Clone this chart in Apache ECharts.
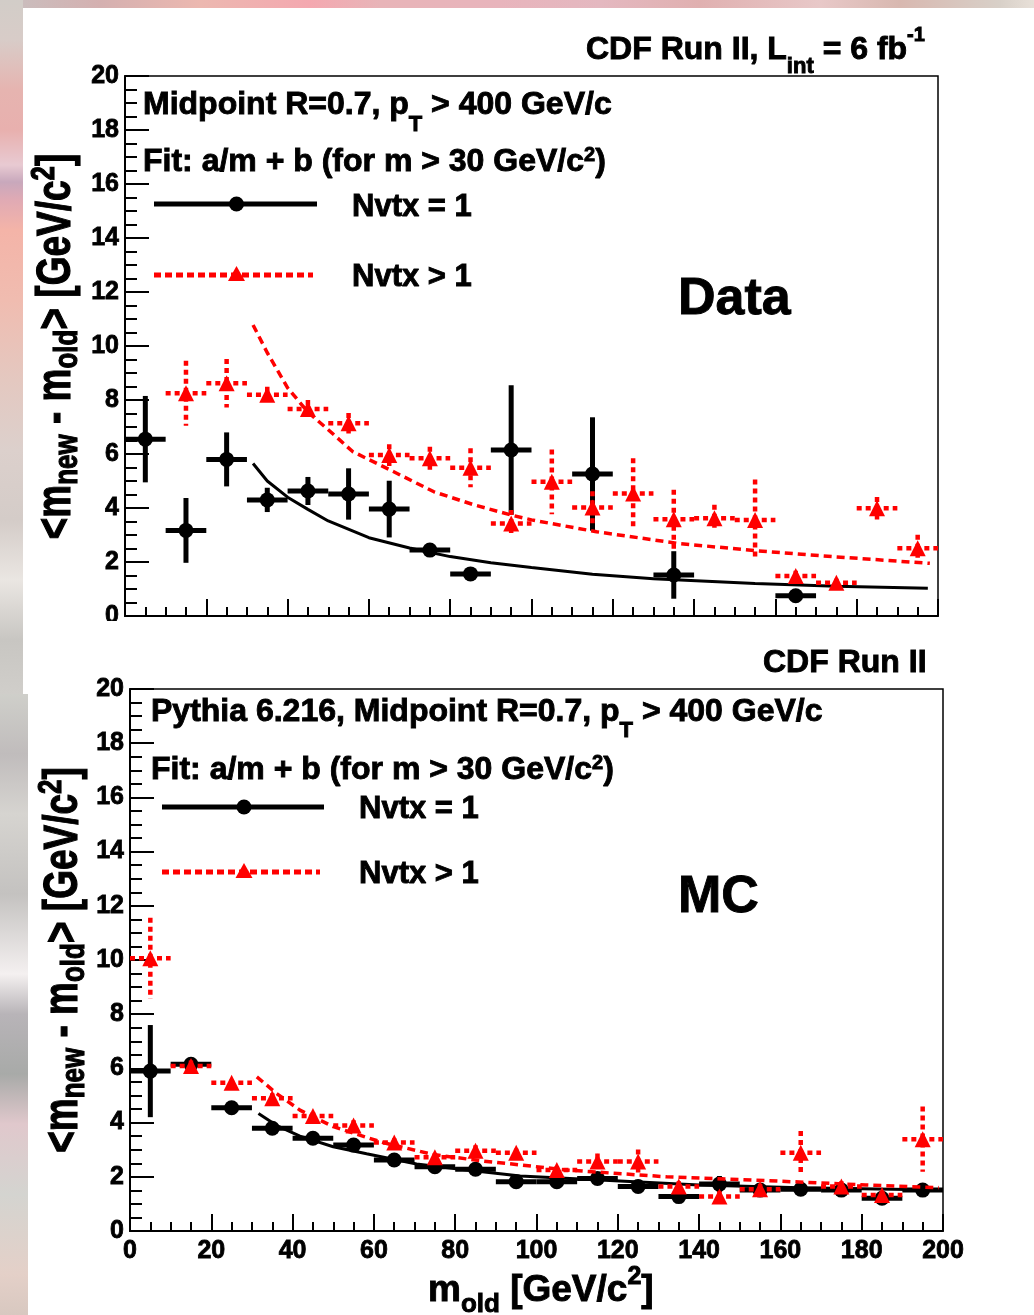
<!DOCTYPE html>
<html>
<head>
<meta charset="utf-8">
<script src="https://cdn.jsdelivr.net/npm/echarts@6/dist/echarts.min.js"></script>
<style>
html,body{margin:0;padding:0;width:1034px;height:1315px;overflow:hidden;background:#fff;}
#bgTop{position:absolute;left:0;top:0;width:1034px;height:8px;
background:linear-gradient(to right,#c8c0c0 0px,#d4b0b0 100px,#ecb8b0 200px,#f4a8b0 310px,#e8b4b8 380px,#e8b4bc 500px,#e4b8c0 600px,#e0b0b0 700px,#e8c8c8 820px,#d8b8b0 900px,#d8d0c8 1000px,#e8e0d8 1034px);}
#bgLeft1{position:absolute;left:0;top:0;width:23px;height:694px;
background:linear-gradient(to bottom,#d2cdc8 0px,#d8ccc8 40px,#e6b4b0 90px,#e8b0ae 130px,#e8cad2 165px,#c8a8bc 182px,#e0aab4 200px,#f4b4a8 230px,#f0bcb0 300px,#e4c8c0 380px,#dcd0cc 450px,#d4ccc8 520px,#eae6e2 580px,#c8c6c2 640px,#d0ceca 694px);}
#bgLeft2{position:absolute;left:0;top:694px;width:28px;height:621px;
background:linear-gradient(to bottom,#cfcfca 0px,#c0bcbc 60px,#d6d4d0 120px,#c4c2c0 200px,#f4f0f0 280px,#b8b4b8 320px,#a8aaa8 380px,#e0c8cc 430px,#d4d4d0 500px,#e4d0c8 580px,#d8c8c0 621px);}
#chart{position:absolute;left:0;top:0;width:1034px;height:1315px;}
</style>
</head>
<body>
<div id="bgTop"></div><div id="bgLeft1"></div><div id="bgLeft2"></div>
<div id="chart"></div>
<script>
// ---------------- data ----------------
const binHalfWidth = 5;           // horizontal error = half bin width (GeV/c^2)
const xRange = [0, 200], xStep = 20;
const yRange = [0, 20], yStep = 2;

// Top panel: Data
const dataMassN1  = [5, 15, 25, 35, 45, 55, 65, 75, 85, 95, 115, 135, 165];
const dataShiftN1 = [6.55, 3.17, 5.80, 4.30, 4.63, 4.52, 3.96, 2.44, 1.56, 6.15, 5.26, 1.52, 0.75];
const dataErrN1   = [1.60, 1.20, 1.00, 0.45, 0.52, 0.95, 1.05, 0.20, 0.15, 2.40, 2.10, 0.88, 0.15];

const dataMassN2  = [15, 25, 35, 45, 55, 65, 75, 85, 95, 105, 115, 125, 135, 145, 155, 165, 175, 185, 195];
const dataShiftN2 = [8.25, 8.62, 8.19, 7.67, 7.14, 5.96, 5.84, 5.49, 3.43, 4.97, 4.02, 4.54, 3.58, 3.62, 3.56, 1.48, 1.23, 3.99, 2.51];
const dataErrN2   = [1.20, 0.90, 0.30, 0.33, 0.38, 0.40, 0.43, 0.72, 0.50, 1.20, 0.60, 1.30, 1.10, 0.50, 1.50, 0.20, 0.15, 0.42, 0.50];

const dataFitN1Mass = [31.5, 35, 40, 45, 50, 60, 70, 80, 90, 100, 115, 130, 155, 175, 197.5];
const dataFitN1Val  = [5.65, 5.00, 4.40, 3.95, 3.52, 2.90, 2.52, 2.20, 1.97, 1.80, 1.55, 1.38, 1.20, 1.10, 1.03];
const dataFitN2Mass = [31.5, 35, 40, 45, 50, 56, 66, 76, 86, 95, 100, 116, 136, 155, 174, 198];
const dataFitN2Val  = [10.78, 9.75, 8.45, 7.55, 6.90, 6.09, 5.35, 4.60, 4.11, 3.74, 3.56, 3.12, 2.69, 2.42, 2.20, 1.95];

// Bottom panel: MC
const mcMass     = [5, 15, 25, 35, 45, 55, 65, 75, 85, 95, 105, 115, 125, 135, 145, 155, 165, 175, 185, 195];
const mcShiftN1  = [5.90, 6.15, 4.55, 3.79, 3.42, 3.17, 2.62, 2.37, 2.28, 1.82, 1.82, 1.94, 1.64, 1.27, 1.73, 1.51, 1.54, 1.51, 1.21, 1.51];
const mcErrN1    = [1.70, 0.15, 0.10, 0.10, 0.10, 0.12, 0.10, 0.10, 0.10, 0.10, 0.10, 0.10, 0.10, 0.10, 0.30, 0.15, 0.22, 0.15, 0.10, 0.25];
const mcShiftN2  = [10.06, 6.09, 5.47, 4.90, 4.24, 3.89, 3.27, 2.72, 2.96, 2.89, 2.25, 2.56, 2.56, 1.64, 1.27, 1.54, 2.89, 1.64, 1.33, 3.39];
const mcErrN2    = [1.50, 0.20, 0.12, 0.18, 0.15, 0.20, 0.15, 0.15, 0.20, 0.15, 0.15, 0.30, 0.45, 0.20, 0.20, 0.20, 0.80, 0.20, 0.15, 1.20];

const mcFitN1Mass = [31.6, 36, 41.8, 50, 58.2, 70.5, 82.8, 96, 115.6, 140, 164.8, 199];
const mcFitN1Val  = [4.34, 3.90, 3.50, 3.11, 2.85, 2.47, 2.25, 2.03, 1.88, 1.70, 1.60, 1.51];
const mcFitN2Mass = [31.2, 36, 41.8, 50, 62.3, 74.6, 86.9, 96, 107.4, 132, 156.6, 181, 199];
const mcFitN2Val  = [5.69, 5.08, 4.46, 3.85, 3.26, 2.82, 2.58, 2.44, 2.25, 2.00, 1.86, 1.70, 1.60];

// ---------------- helpers ----------------
const FF = '"Liberation Sans", Arial, Helvetica, sans-serif';
const RED = '#ff0000';

function zip(a, b, c) { return a.map((v, i) => c ? [v, b[i], binHalfWidth, c[i]] : [v, b[i]]); }

function errRender(color, width, dash) {
  return function (params, api) {
    const x = api.value(0), y = api.value(1), ex = api.value(2), ey = api.value(3);
    const a = api.coord([x - ex, y]), b = api.coord([x + ex, y]);
    const c = api.coord([x, y + ey]), d = api.coord([x, y - ey]);
    const st = { stroke: color, lineWidth: width, lineDash: dash, fill: null, lineCap: 'butt' };
    return { type: 'group', children: [
      { type: 'line', shape: { x1: a[0], y1: a[1], x2: b[0], y2: b[1] }, style: st },
      { type: 'line', shape: { x1: c[0], y1: c[1], x2: d[0], y2: d[1] }, style: st }
    ]};
  };
}
function errSeries(g, data, color, width, dash, z) {
  return { type: 'custom', xAxisIndex: g, yAxisIndex: g, data: data, encode: { x: 0, y: 1 },
    renderItem: errRender(color, width, dash), clip: true, z: z, silent: true };
}
function markSeries(g, data, symbol, size, color, z) {
  return { type: 'scatter', xAxisIndex: g, yAxisIndex: g, data: data, symbol: symbol, symbolSize: size,
    itemStyle: { color: color, opacity: 1 }, z: z, silent: true, clip: true };
}
function fitSeries(g, data, color, width, type, z) {
  return { type: 'line', xAxisIndex: g, yAxisIndex: g, data: data, symbol: 'none', showSymbol: false,
    lineStyle: { color: color, width: width, type: type }, z: z, silent: true, clip: true };
}
function tok(size, extra) {
  return Object.assign({ fontSize: size, fontWeight: 'bold', fontFamily: FF, fill: '#000',
    stroke: '#000', lineWidth: 0.9 }, extra || {});
}
function label(x, y, text, rich, extra) {
  return Object.assign({ type: 'text', x: x, y: y, z: 100,
    style: { text: text, rich: rich, align: 'left', verticalAlign: 'middle', fill: '#000',
      fontSize: rich.m.fontSize, fontWeight: 'bold', fontFamily: FF } }, extra || {});
}
function legendGroup(xl, xr, yb, yr) {
  const xc = (xl + xr) / 2 + 1;
  return [
    { type: 'line', z: 100, shape: { x1: xl, y1: yb, x2: xr, y2: yb }, style: { stroke: '#000', lineWidth: 5 } },
    { type: 'circle', z: 101, shape: { cx: xc, cy: yb, r: 7.5 }, style: { fill: '#000' } },
    { type: 'line', z: 100, shape: { x1: xl, y1: yr, x2: xr - 4, y2: yr }, style: { stroke: RED, lineWidth: 5, lineDash: [7, 4] } },
    { type: 'polygon', z: 101, shape: { points: [[xc, yr - 9], [xc - 8.5, yr + 6], [xc + 8.5, yr + 6]] }, style: { fill: RED } }
  ];
}

function axisPair(g, showXLabels) {
  const common = {
    gridIndex: g, type: 'value',
    axisLine: { show: true, onZero: false, lineStyle: { color: '#000', width: 2 } },
    splitLine: { show: false }, minorSplitLine: { show: false }
  };
  const lab = { color: '#000', fontSize: 25, fontWeight: 'bold', fontFamily: FF, textBorderColor: '#000', textBorderWidth: 0.8 };
  const x = Object.assign({}, common, {
    min: xRange[0], max: xRange[1], interval: xStep,
    axisTick: { show: true, inside: true, length: 17, lineStyle: { color: '#000', width: 2 } },
    minorTick: { show: true, splitNumber: 4, length: 9, lineStyle: { color: '#000', width: 2 } },
    axisLabel: Object.assign({ show: showXLabels, margin: 8 }, lab)
  });
  const y = Object.assign({}, common, {
    min: yRange[0], max: yRange[1], interval: yStep,
    axisTick: { show: true, inside: true, length: 24, lineStyle: { color: '#000', width: 2 } },
    minorTick: { show: true, splitNumber: 4, length: 12, lineStyle: { color: '#000', width: 2 } },
    axisLabel: Object.assign({ show: true, margin: 6 }, lab)
  });
  return [x, y];
}

const ax0 = axisPair(0, false), ax1 = axisPair(1, true);

// rich styles
const richCDF = { m: tok(32), s: tok(22, { padding: [34, 0, 0, 0] }), u: tok(20, { padding: [0, 0, 29, 0] }) };
const richSel = { m: tok(32), s: tok(22, { padding: [39, 0, 0, 0] }) };
const richFit = { m: tok(32), u: tok(20, { padding: [0, 0, 13, 0] }) };
const richLeg = { m: tok(31) };
const richBig = { m: tok(52) };
const richXT  = { m: tok(37), s: tok(26, { padding: [29, 0, 0, 0] }), u: tok(25, { padding: [0, 0, 26, 0] }) };
const richYT  = { m: tok(37), s: tok(26, { padding: [17, 0, 0, 0] }), u: tok(26, { padding: [0, 0, 19, 0] }) };

const yTitle = '{m|<m}{s|new}{m| - m}{s|old}{m|> [GeV/c}{u|2}{m|]}';

const graphics = [
  // top panel texts
  label(586, 50.1, '{m|CDF Run II, L}{s|int}{m| = 6 fb}{u|-1}', richCDF),
  label(143, 105.1, '{m|Midpoint R=0.7, p}{s|T}{m| > 400 GeV/c}', richSel),
  label(143, 162.1, '{m|Fit: a/m + b (for m > 30 GeV/c}{u|2}{m|)}', richFit),
  label(352, 207.4, '{m|Nvtx = 1}', richLeg),
  label(352, 277.4, '{m|Nvtx > 1}', richLeg),
  label(678, 300, '{m|Data}', richBig),
  label(57, 346.5, yTitle, richYT, { rotation: Math.PI / 2, scaleY: 1.3 }),
  // bottom panel texts
  label(763, 663.1, '{m|CDF Run II}', richCDF),
  label(151, 711.8, '{m|Pythia 6.216, Midpoint R=0.7, p}{s|T}{m| > 400 GeV/c}', richSel),
  label(151, 770.1, '{m|Fit: a/m + b (for m > 30 GeV/c}{u|2}{m|)}', richFit),
  label(359, 809.4, '{m|Nvtx = 1}', richLeg),
  label(359, 874.4, '{m|Nvtx > 1}', richLeg),
  label(678, 898, '{m|MC}', richBig),
  label(64, 960, yTitle, richYT, { rotation: Math.PI / 2, scaleY: 1.3 }),
  label(428, 1290.5, '{m|m}{s|old}{m| [GeV/c}{u|2}{m|]}', richXT),
  // top panel picture is cut just below its x axis
  { type: 'rect', z: 200, shape: { x: 80, y: 621, width: 44, height: 40 }, style: { fill: '#fff' } }
].concat(legendGroup(154, 317, 204, 275), legendGroup(162, 324, 807, 872));

graphics.forEach(g => { if (g.rotation) { g.style.align = 'center'; } });

const option = {
  animation: false,
  backgroundColor: 'transparent',
  grid: [
    { left: 125, top: 76, width: 813, height: 540, show: true, borderColor: '#000', borderWidth: 1.5,
      backgroundColor: 'transparent', containLabel: false, outerBoundsMode: 'none' },
    { left: 130, top: 689, width: 813, height: 542, show: true, borderColor: '#000', borderWidth: 1.5,
      backgroundColor: 'transparent', containLabel: false, outerBoundsMode: 'none' }
  ],
  xAxis: [ax0[0], ax1[0]],
  yAxis: [ax0[1], ax1[1]],
  series: [
    errSeries(0, zip(dataMassN1, dataShiftN1, dataErrN1), '#000', 5, null, 2),
    markSeries(0, zip(dataMassN1, dataShiftN1), 'circle', 15, '#000', 3),
    fitSeries(0, zip(dataFitN1Mass, dataFitN1Val), '#000', 3, 'solid', 4),
    errSeries(0, zip(dataMassN2, dataShiftN2, dataErrN2), RED, 4.5, [5, 4], 5),
    markSeries(0, zip(dataMassN2, dataShiftN2), 'triangle', 16, RED, 6),
    fitSeries(0, zip(dataFitN2Mass, dataFitN2Val), RED, 3.5, [8, 5], 7),

    errSeries(1, zip(mcMass, mcShiftN1, mcErrN1), '#000', 5, null, 2),
    markSeries(1, zip(mcMass, mcShiftN1), 'circle', 15, '#000', 3),
    fitSeries(1, zip(mcFitN1Mass, mcFitN1Val), '#000', 3, 'solid', 4),
    errSeries(1, zip(mcMass, mcShiftN2, mcErrN2), RED, 4.5, [5, 4], 5),
    markSeries(1, zip(mcMass, mcShiftN2), 'triangle', 16, RED, 6),
    fitSeries(1, zip(mcFitN2Mass, mcFitN2Val), RED, 3.5, [8, 5], 7)
  ],
  graphic: { elements: graphics }
};

const chart = echarts.init(document.getElementById('chart'), null, { renderer: 'canvas', width: 1034, height: 1315 });
chart.setOption(option);
</script>
</body>
</html>
